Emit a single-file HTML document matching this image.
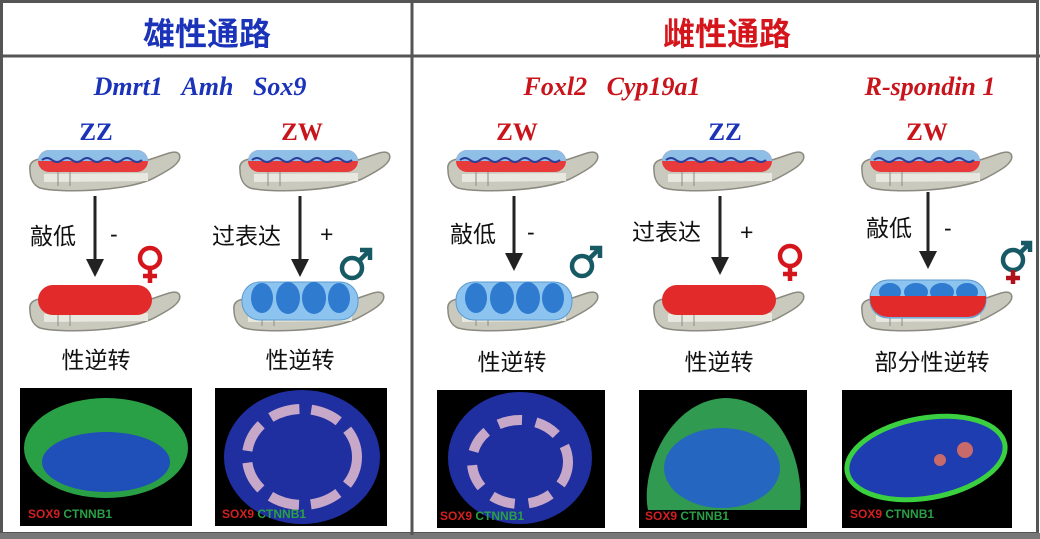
<!DOCTYPE html>
<html><head><meta charset="utf-8"><style>
body{margin:0;background:#fff;}
svg{display:block;}
.cn{font-family:"Liberation Sans","Noto Sans CJK SC",sans-serif;}
.it{font-family:"Liberation Serif",serif;font-style:italic;font-weight:bold;}
.sr{font-family:"Liberation Serif",serif;font-weight:bold;}
</style></head><body>
<svg width="1040" height="539" viewBox="0 0 1040 539" xmlns="http://www.w3.org/2000/svg">
<defs>
<g id="ridge">
 <path d="M30,170 C28,158 42,157 62,160 L140,162 C160,158 174,148 179,154 C184,163 165,172 152,179 C122,192 58,193 40,188 C33,185 30,178 30,170Z" fill="#c9c9bd" stroke="#8a8a80" stroke-width="1.5"/>
 <path d="M44,178 L148,177" stroke="#e8e8e0" stroke-width="8"/>
 <path d="M58,170 L58,186 M70,170 L70,186" stroke="#8a8a80" stroke-width="1"/>
</g>
<g id="topg">
 <use href="#ridge"/>
 <rect x="38" y="150" width="110" height="22" rx="11" fill="#e83a3a"/>
 <path d="M38,161 a11,11 0 0 1 11,-11 h88 a11,11 0 0 1 11,11z" fill="#8fbfe6"/>
 <path d="M42,160 q5,-4 10,0 t10,0 t10,0 t10,0 t10,0 t10,0 t10,0 t10,0 t10,0 t10,0" fill="none" stroke="#2b3f9a" stroke-width="2"/>
</g>
<g id="redg">
 <use href="#ridge" transform="translate(0,140)"/>
 <rect x="38" y="285" width="114" height="30" rx="15" fill="#e32a2a"/>
</g>
<g id="blueg">
 <use href="#ridge" transform="translate(0,140)"/>
 <rect x="38" y="282" width="116" height="38" rx="18" fill="#8cc4ef" stroke="#5a9ad0"/>
 <ellipse cx="58" cy="298" rx="11" ry="15" fill="#2e7bd0"/>
 <ellipse cx="84" cy="298" rx="12" ry="16" fill="#2e7bd0"/>
 <ellipse cx="110" cy="298" rx="12" ry="16" fill="#2e7bd0"/>
 <ellipse cx="135" cy="298" rx="11" ry="15" fill="#2e7bd0"/>
</g>
<g id="mixg">
 <use href="#ridge" transform="translate(0,140)"/>
 <rect x="38" y="280" width="116" height="38" rx="18" fill="#8cc4ef" stroke="#5a9ad0"/>
 <ellipse cx="58" cy="292" rx="11" ry="9" fill="#2e7bd0"/>
 <ellipse cx="84" cy="292" rx="12" ry="9" fill="#2e7bd0"/>
 <ellipse cx="110" cy="292" rx="12" ry="9" fill="#2e7bd0"/>
 <ellipse cx="135" cy="292" rx="11" ry="9" fill="#2e7bd0"/>
 <path d="M38,296 h116 v3 a18,18 0 0 1 -18,18 h-80 a18,18 0 0 1 -18,-18z" fill="#e32a2a"/>
</g>
<marker id="ar" markerWidth="6" markerHeight="6" refX="3" refY="3" orient="auto" markerUnits="strokeWidth"><path d="M0,0 L6,3 L0,6z" fill="#222"/></marker>
</defs>
<rect x="1.5" y="1.5" width="1036" height="532" fill="none" stroke="#555" stroke-width="3"/>
<rect x="0" y="533" width="1040" height="6" fill="#777"/>
<line x1="0" y1="56" x2="1040" y2="56" stroke="#555" stroke-width="3"/>
<line x1="412" y1="0" x2="412" y2="535" stroke="#555" stroke-width="3"/>
<text x="207" y="45" text-anchor="middle" class="cn" font-size="32" font-weight="bold" fill="#1a33b8">雄性通路</text>
<text x="727" y="45" text-anchor="middle" class="cn" font-size="32" font-weight="bold" fill="#d4161c">雌性通路</text>
<text x="200" y="95" text-anchor="middle" class="it" font-size="26" fill="#1a33b8" xml:space="preserve">Dmrt1   Amh   Sox9</text>
<text x="612" y="95" text-anchor="middle" class="it" font-size="26" fill="#c8141a" xml:space="preserve">Foxl2   Cyp19a1</text>
<text x="930" y="95" text-anchor="middle" class="it" font-size="26" fill="#c8141a">R-spondin 1</text>
<text x="96" y="140" text-anchor="middle" class="sr" font-size="25" fill="#1a33b8">ZZ</text>
<text x="302" y="140" text-anchor="middle" class="sr" font-size="25" fill="#c8141a">ZW</text>
<text x="517" y="140" text-anchor="middle" class="sr" font-size="25" fill="#c8141a">ZW</text>
<text x="725" y="140" text-anchor="middle" class="sr" font-size="25" fill="#1a33b8">ZZ</text>
<text x="927" y="140" text-anchor="middle" class="sr" font-size="25" fill="#c8141a">ZW</text>
<use href="#topg"/>
<use href="#topg" transform="translate(210,0)"/>
<use href="#topg" transform="translate(418,0)"/>
<use href="#topg" transform="translate(624,0)"/>
<use href="#topg" transform="translate(832,0)"/>
<use href="#redg"/>
<use href="#blueg" transform="translate(204,0)"/>
<use href="#blueg" transform="translate(418,0)"/>
<use href="#redg" transform="translate(624,0)"/>
<use href="#mixg" transform="translate(832,0)"/>
<g stroke="#222" stroke-width="3">
<line x1="95" y1="196" x2="95" y2="268" marker-end="url(#ar)"/>
<line x1="300" y1="196" x2="300" y2="268" marker-end="url(#ar)"/>
<line x1="514" y1="196" x2="514" y2="262" marker-end="url(#ar)"/>
<line x1="720" y1="196" x2="720" y2="266" marker-end="url(#ar)"/>
<line x1="928" y1="192" x2="928" y2="260" marker-end="url(#ar)"/>
</g>
<g class="cn" font-size="23" fill="#111">
<text x="30" y="244">敲低</text><text x="110" y="242">-</text>
<text x="212" y="244">过表达</text><text x="320" y="242">+</text>
<text x="450" y="242">敲低</text><text x="527" y="240">-</text>
<text x="632" y="240">过表达</text><text x="740" y="240">+</text>
<text x="866" y="236">敲低</text><text x="944" y="236">-</text>
<text x="96" y="368" text-anchor="middle">性逆转</text>
<text x="300" y="368" text-anchor="middle">性逆转</text>
<text x="512" y="370" text-anchor="middle">性逆转</text>
<text x="719" y="370" text-anchor="middle">性逆转</text>
<text x="932" y="370" text-anchor="middle">部分性逆转</text>
</g>
<g fill="none" stroke-width="4.5">
 <g stroke="#d4161c"><circle cx="150" cy="258" r="10"/><path d="M150,268v15M143,276h14"/></g>
 <g stroke="#175a66"><circle cx="352" cy="268" r="10"/><path d="M359,261l10,-10M360,250h10v10"/></g>
 <g stroke="#175a66"><circle cx="582" cy="266" r="10"/><path d="M589,259l10,-10M590,248h10v10"/></g>
 <g stroke="#d4161c"><circle cx="790" cy="256" r="10"/><path d="M790,266v15M783,274h14"/></g>
 <g stroke="#175a66"><circle cx="1013" cy="260" r="10"/><path d="M1020,253l9,-9M1021,243h9v9"/></g>
 <g stroke="#b0101a"><path d="M1013,270v14M1006,278h14"/></g>
</g>
<rect x="20" y="388" width="172" height="138" fill="#000"/>
<ellipse cx="106" cy="448" rx="82" ry="50" fill="#2aa046"/>
<ellipse cx="106" cy="462" rx="64" ry="30" fill="#1f4fb8"/>
<text x="28" y="518" font-family="Liberation Sans" font-weight="bold" font-size="12" fill="#d42020">SOX9 <tspan fill="#2aa046">CTNNB1</tspan></text>
<rect x="215" y="388" width="172" height="138" fill="#000"/>
<ellipse cx="302" cy="457" rx="78" ry="67" fill="#1f2fa0"/>
<ellipse cx="302" cy="457" rx="55" ry="48" fill="none" stroke="#c7a8c8" stroke-width="10" stroke-dasharray="30 12"/>
<text x="222" y="518" font-family="Liberation Sans" font-weight="bold" font-size="12" fill="#d42020">SOX9 <tspan fill="#2aa046">CTNNB1</tspan></text>
<rect x="437" y="390" width="168" height="138" fill="#000"/>
<ellipse cx="520" cy="458" rx="72" ry="66" fill="#1f2fa0"/>
<ellipse cx="520" cy="462" rx="48" ry="42" fill="none" stroke="#c7a8c8" stroke-width="10" stroke-dasharray="24 14"/>
<text x="440" y="520" font-family="Liberation Sans" font-weight="bold" font-size="12" fill="#d42020">SOX9 <tspan fill="#2aa046">CTNNB1</tspan></text>
<rect x="639" y="390" width="168" height="138" fill="#000"/>
<path d="M648,510 C640,470 670,400 725,398 C780,398 805,460 800,510 Z" fill="#2f9a50"/>
<ellipse cx="722" cy="468" rx="58" ry="40" fill="#2566c0"/>
<text x="645" y="520" font-family="Liberation Sans" font-weight="bold" font-size="12" fill="#d42020">SOX9 <tspan fill="#2aa046">CTNNB1</tspan></text>
<rect x="842" y="390" width="170" height="138" fill="#000"/>
<ellipse cx="926" cy="458" rx="80" ry="40" transform="rotate(-10 926 458)" fill="#1e3db0" stroke="#3ad040" stroke-width="5"/>
<circle cx="965" cy="450" r="8" fill="#c86a6a"/><circle cx="940" cy="460" r="6" fill="#c86a6a"/>
<text x="850" y="518" font-family="Liberation Sans" font-weight="bold" font-size="12" fill="#d42020">SOX9 <tspan fill="#2aa046">CTNNB1</tspan></text>
</svg>
</body></html>
